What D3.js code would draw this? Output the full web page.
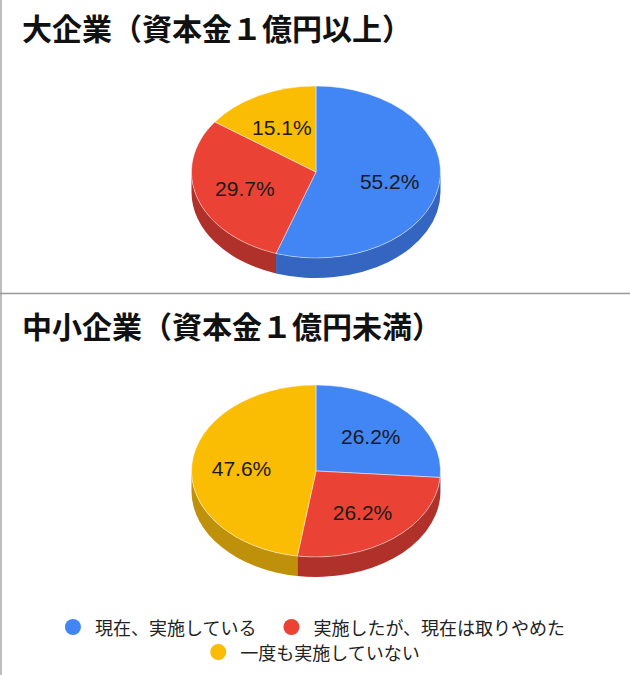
<!DOCTYPE html>
<html><head><meta charset="utf-8">
<script src="https://cdn.jsdelivr.net/npm/d3@7"></script>
<style>
html,body{margin:0;padding:0;background:#fff;}
svg{display:block;}
</style></head>
<body>
<svg id="chart" width="630" height="675"></svg>
<script>
const categories = ["現在、実施している", "実施したが、現在は取りやめた", "一度も実施していない"];
const titles = ["大企業（資本金１億円以上）", "中小企業（資本金１億円未満）"];
const largeValues = [55.2, 29.7, 15.1];
const smeValues = [26.2, 26.2, 47.6];
const topColors = ["#4285f4", "#ea4335", "#fbbc04"];
const sideColors = ["#3465c0", "#b0302a", "#bf900a"];

const svg = d3.select("#chart");
const W = 630, H = 675;

// frame lines
svg.append("line").attr("x1", 1).attr("x2", 1).attr("y1", 0).attr("y2", H)
  .attr("stroke", "#a8a8a8").attr("stroke-width", 1.5);
svg.append("line").attr("x1", 0).attr("x2", W).attr("y1", 293.5).attr("y2", 293.5)
  .attr("stroke", "#999").attr("stroke-width", 1.5);

const rx = 124.5, ry = 86, depth = 20;
const color = d3.scaleOrdinal().domain(categories).range(topColors);
const sideColor = d3.scaleOrdinal().domain(categories).range(sideColors);
const pie = d3.pie().sort(null).value(d => d.v);

function pt(cx, cy, a, dy) {
  return [cx + rx * Math.sin(a), cy - ry * Math.cos(a) + (dy || 0)];
}

function drawPie(g, values, cx, cy, title, titleY) {
  g.append("text").attr("x", 22).attr("y", titleY)
    .attr("font-family", "'Noto Sans CJK JP', sans-serif")
    .attr("font-weight", "bold").attr("font-size", 30).attr("fill", "#111")
    .text(title);
  const data = pie(values.map((v, i) => ({ c: categories[i], v })));
  // sides
  data.forEach(d => {
    const s = Math.max(d.startAngle, Math.PI / 2);
    const e = Math.min(d.endAngle, Math.PI * 3 / 2);
    if (e <= s) return;
    const p1 = pt(cx, cy, s), p2 = pt(cx, cy, e);
    const q2 = pt(cx, cy, e, depth), q1 = pt(cx, cy, s, depth);
    const large = (e - s) > Math.PI ? 1 : 0;
    const path = `M${p1}A${rx},${ry} 0 ${large} 1 ${p2}L${q2}A${rx},${ry} 0 ${large} 0 ${q1}Z`;
    g.append("path").attr("d", path).attr("fill", sideColor(d.data.c));
  });
  // tops
  data.forEach(d => {
    const p1 = pt(cx, cy, d.startAngle), p2 = pt(cx, cy, d.endAngle);
    const large = (d.endAngle - d.startAngle) > Math.PI ? 1 : 0;
    const path = `M${cx},${cy}L${p1}A${rx},${ry} 0 ${large} 1 ${p2}Z`;
    g.append("path").attr("d", path).attr("fill", color(d.data.c))
      .attr("stroke", "rgba(255,255,255,0.45)").attr("stroke-width", 1).attr("stroke-linejoin", "round");
  });
  // labels
  data.forEach(d => {
    const m = (d.startAngle + d.endAngle) / 2;
    const x = cx + 0.6 * rx * Math.sin(m);
    const y = cy - 0.6 * ry * Math.cos(m) + 1;
    g.append("text").attr("x", x).attr("y", y)
      .attr("text-anchor", "middle").attr("dominant-baseline", "central")
      .attr("font-family", "'Liberation Sans', Arial, sans-serif")
      .attr("font-size", 21).attr("fill", "#1a1a1a")
      .text(d.data.v.toFixed(1) + "%");
  });
}

drawPie(svg.append("g"), largeValues, 316, 172, titles[0], 40);
drawPie(svg.append("g"), smeValues, 316, 471, titles[1], 338);

// legend
const legendRows = [[0, 1], [2]];
const rowY = [627, 652];
const lg = svg.append("g").attr("font-family", "'Noto Sans CJK JP', sans-serif").attr("font-size", 18);
legendRows.forEach((row, ri) => {
  const row_g = lg.append("g");
  let x = 0;
  row.forEach((ci, k) => {
    const item = row_g.append("g").attr("transform", `translate(${x},0)`);
    item.append("circle").attr("cx", 8).attr("cy", rowY[ri]).attr("r", 8).attr("fill", color(categories[ci]));
    const t = item.append("text").attr("x", 30).attr("y", rowY[ri]).attr("dominant-baseline", "central")
      .attr("fill", "#222").text(categories[ci]);
    const w = t.node().getComputedTextLength();
    x += 30 + w + 27;
  });
  const total = x - 27;
  row_g.attr("transform", `translate(${315 - total / 2},0)`);
});
</script>
</body></html>
